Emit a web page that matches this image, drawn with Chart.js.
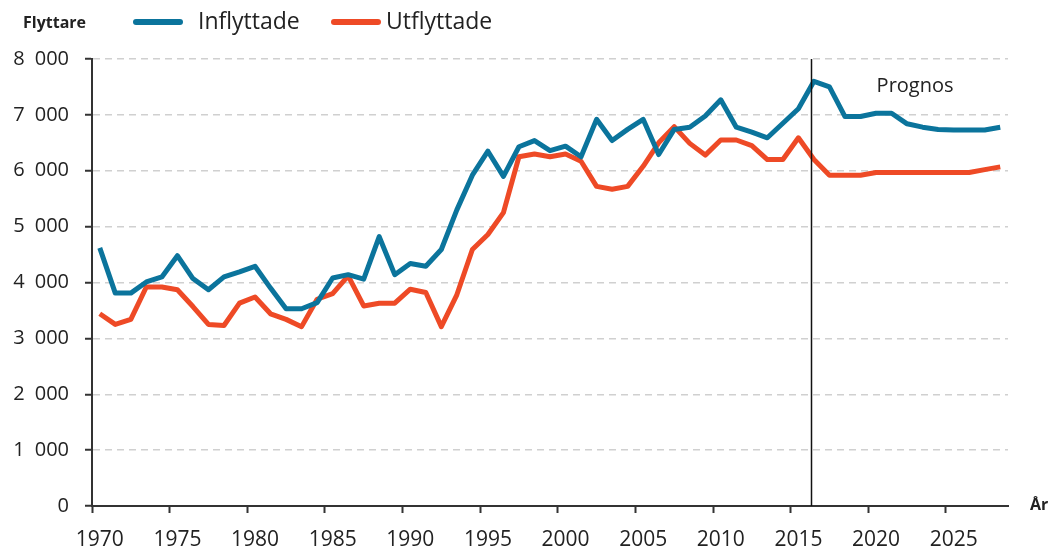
<!DOCTYPE html>
<html>
<head>
<meta charset="utf-8">
<script src="https://cdn.jsdelivr.net/npm/chart.js@4"></script>
<style>
html, body { margin: 0; padding: 0; background: #fff; }
#wrap { width: 1052px; height: 556px; position: relative; }
</style>
</head>
<body>
<div id="wrap"><canvas id="lineChart"></canvas></div>
<script>
// data
var years = [1970, 1971, 1972, 1973, 1974, 1975, 1976, 1977, 1978, 1979,
  1980, 1981, 1982, 1983, 1984, 1985, 1986, 1987, 1988, 1989,
  1990, 1991, 1992, 1993, 1994, 1995, 1996, 1997, 1998, 1999,
  2000, 2001, 2002, 2003, 2004, 2005, 2006, 2007, 2008, 2009,
  2010, 2011, 2012, 2013, 2014, 2015, 2016, 2017, 2018, 2019,
  2020, 2021, 2022, 2023, 2024, 2025, 2026, 2027, 2028];
var inflyttade = [4620, 3810, 3810, 4010, 4100, 4480, 4070, 3870, 4100, 4190,
  4290, 3900, 3530, 3530, 3640, 4080, 4140, 4060, 4820, 4140,
  4340, 4290, 4590, 5300, 5920, 6350, 5900, 6430, 6540, 6360,
  6440, 6250, 6920, 6540, 6740, 6920, 6290, 6740, 6780, 6980,
  7270, 6780, 6690, 6590, 6850, 7110, 7600, 7500, 6970, 6970,
  7030, 7030, 6840, 6780, 6740, 6730, 6730, 6730, 6780];
var utflyttade = [3440, 3250, 3340, 3920, 3920, 3870, 3570, 3250, 3230, 3630,
  3740, 3440, 3340, 3210, 3700, 3800, 4120, 3580, 3630, 3630,
  3880, 3820, 3210, 3780, 4590, 4860, 5250, 6250, 6300, 6250,
  6300, 6170, 5720, 5670, 5720, 6080, 6500, 6790, 6490, 6280,
  6550, 6550, 6450, 6200, 6200, 6590, 6200, 5920, 5920, 5920,
  5970, 5970, 5970, 5970, 5970, 5970, 5970, 6020, 6070];
var yTicks = [0, 1000, 2000, 3000, 4000, 5000, 6000, 7000, 8000];
var prognosYear = 2016;

var blue = '#0b749c';
var red = '#ee4a26';
var ink = '#222';
var font = "'Open Sans', sans-serif";

// legend, title texts, prognos line
var extras = {
  id: 'extras',
  afterDatasetsDraw: function (chart) {
    var c = chart.ctx, xs = chart.scales.x, ys = chart.scales.y;
    var px = Math.round(xs.getPixelForValue(years.indexOf(prognosYear) - 0.2));
    c.save();
    c.strokeStyle = '#111';
    c.lineWidth = 1.5;
    c.beginPath();
    c.moveTo(px + 0.5, ys.getPixelForValue(8000));
    c.lineTo(px + 0.5, ys.getPixelForValue(0));
    c.stroke();

    c.fillStyle = ink;
    c.textBaseline = 'middle';
    c.textAlign = 'center';
    c.font = '20px ' + font;
    c.fillText('Prognos', xs.getPixelForValue(years.indexOf(2022)) + 8, 86);

    c.textAlign = 'left';
    c.font = 'bold 16px ' + font;
    c.fillText('Flyttare', 23, 23);
    c.fillText('År', 1030, 505);

    c.lineCap = 'round';
    c.lineWidth = 6;
    c.strokeStyle = blue;
    c.beginPath(); c.moveTo(136, 22); c.lineTo(180, 22); c.stroke();
    c.strokeStyle = red;
    c.beginPath(); c.moveTo(334, 22); c.lineTo(378, 22); c.stroke();
    c.font = '23px ' + font;
    c.fillText('Inflyttade', 198, 22);
    c.fillText('Utflyttade', 386, 22);
    c.restore();
  }
};

var ctxL = document.getElementById('lineChart').getContext('2d');
var myLineChart = new Chart(ctxL, {
  type: 'line',
  data: {
    labels: years,
    datasets: [{
      label: 'Inflyttade',
      data: inflyttade,
      borderColor: blue,
      borderWidth: 5,
      pointRadius: 0,
      tension: 0,
      borderJoinStyle: 'round'
    }, {
      label: 'Utflyttade',
      data: utflyttade,
      borderColor: red,
      borderWidth: 5,
      pointRadius: 0,
      tension: 0,
      borderJoinStyle: 'round'
    }]
  },
  options: {
    responsive: true,
    maintainAspectRatio: false,
    animation: false,
    layout: { padding: { top: 59, right: 44, left: 0, bottom: 0 } },
    plugins: { legend: { display: false }, tooltip: { enabled: false } },
    scales: {
      x: {
        offset: true,
        afterFit: function (s) { s.height = 50; },
        grid: {
          offset: true,
          drawOnChartArea: false,
          tickLength: 7,
          tickWidth: 2,
          tickColor: function (c) { return c.index % 5 === 0 ? '#333' : 'rgba(0,0,0,0)'; }
        },
        border: { color: '#333', width: 2 },
        ticks: {
          autoSkip: false,
          maxRotation: 0,
          padding: 14,
          color: ink,
          font: { family: font, size: 21 },
          callback: function (v, i) { return years[i] % 5 === 0 ? String(years[i]) : ''; }
        }
      },
      y: {
        min: 0,
        max: 8000,
        afterFit: function (s) { s.width = 92; },
        afterBuildTicks: function (s) { s.ticks = yTicks.map(function (v) { return { value: v }; }); },
        grid: {
          color: '#d0d0d0',
          lineWidth: 1.5,
          tickLength: 7,
          tickWidth: 2,
          tickColor: '#333'
        },
        border: { color: '#333', width: 2, dash: [7, 5] },
        ticks: {
          padding: 16,
          color: ink,
          font: { family: font, size: 20 },
          callback: function (v) { return String(v).replace(/\B(?=(\d{3})+(?!\d))/g, '\u2002'); }
        }
      }
    }
  },
  plugins: [extras]
});
</script>
</body>
</html>
